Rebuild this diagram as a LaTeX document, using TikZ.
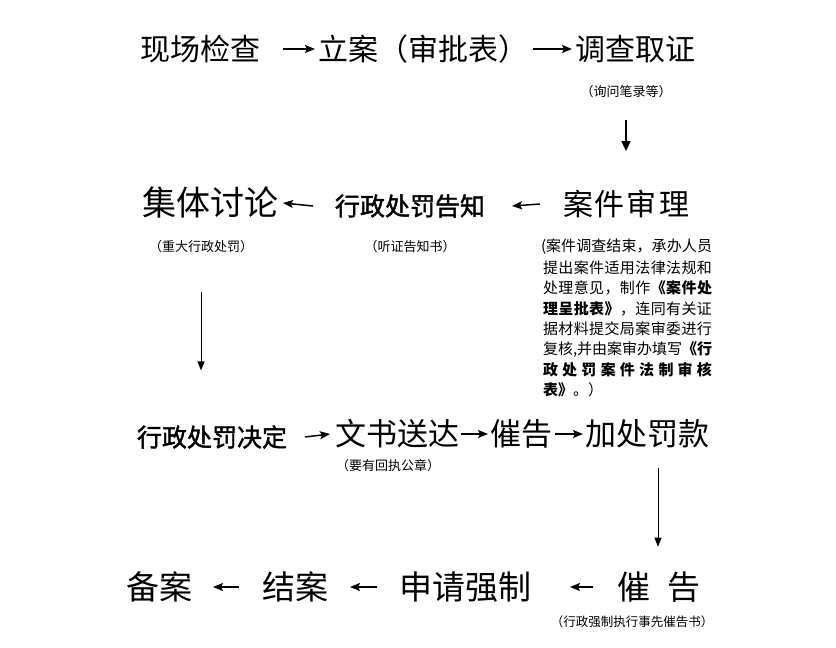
\documentclass[tikz,border=0pt]{standalone}
\usepackage{fontspec}
\setmainfont{Noto Sans CJK SC}
\newfontfamily\semib{Noto Sans CJK SC}[FakeBold=1.6]
\usetikzlibrary{arrows.meta}
\newcommand\gp{\hfil}
\newcommand\fs[1]{\fontsize{#1}{#1}\selectfont}
\begin{document}
\begin{tikzpicture}[x=1pt,y=-1pt,
  every node/.style={inner sep=0pt,outer sep=0pt},
  big/.style={anchor=west,font=\fs{30}},
  bigb/.style={anchor=west,font=\fs{25}\semib},
  small/.style={font=\fs{13}},
  blk/.style={anchor=west,font=\fs{15}},
  tarr/.style={line width=1.5pt,-{Stealth[length=10pt,width=8pt,inset=2pt]}},
  varr/.style={line width=1.8pt,-{Triangle[length=10pt,width=9pt]}},
  vthin/.style={line width=0.9pt,-{Triangle[length=9pt,width=7pt]}}]
\useasboundingbox (0,0) rectangle (836,648);
% row 1
\node[big] (n11) at (140,49) {现场检查};
\node[big] (n12) at (318,49) {立案（审批表）};
\node[big] (n13) at (575,49) {调查取证};
\node[small] (l13) at (626,92) {（询问笔录等）};
\draw[tarr] ([xshift=23pt]n11.east) -- ([xshift=-3pt]n12.west);
\draw[tarr] ([xshift=5pt]n12.east) -- ([xshift=-3pt]n13.west);
% row 2
\node[big,font=\fs{34}] (n21) at (142,203) {集体讨论};
\node[bigb] (n22) at (335,206) {行政处罚告知};
\node[big] (n23) at (563,204) {案\kern2pt{}件\kern2pt{}审\kern2pt{}理};
\node[small] (l21) at (201,247) {（重大行政处罚）};
\node[small] (l22) at (410,247) {（听证告知书）};
\draw[tarr] ([xshift=-22pt]n22.west) -- ([xshift=5pt]n21.east);
\draw[tarr] ([xshift=-23pt]n23.west) -- ([xshift=27pt]n22.east);
\draw[varr] ([yshift=-22pt]l13.south) -- ([yshift=39pt]l13.south |- n23.north);
% block text
\node[blk] (b1) at (541,247) {\makebox[171pt][s]{(\gp{}案\gp{}件\gp{}调\gp{}查\gp{}结\gp{}束\gp{}，\gp{}承\gp{}办\gp{}人\gp{}员}};
\node[blk] (b2) at (543,268) {\makebox[169pt][s]{提\gp{}出\gp{}案\gp{}件\gp{}适\gp{}用\gp{}法\gp{}律\gp{}法\gp{}规\gp{}和}};
\node[blk] (b3) at (543,288) {\makebox[169pt][s]{处\gp{}理\gp{}意\gp{}见\gp{}，\gp{}制\gp{}作\gp{}{\bfseries 《\gp{}案\gp{}件\gp{}处}}};
\node[blk] (b4) at (543,309) {\makebox[169pt][s]{{\bfseries 理\gp{}呈\gp{}批\gp{}表\gp{}》}\gp{}，\gp{}连\gp{}同\gp{}有\gp{}关\gp{}证}};
\node[blk] (b5) at (543,329) {\makebox[169pt][s]{据\gp{}材\gp{}料\gp{}提\gp{}交\gp{}局\gp{}案\gp{}审\gp{}委\gp{}进\gp{}行}};
\node[blk] (b6) at (543,350) {\makebox[169pt][s]{复\gp{}核\gp{},\gp{}并\gp{}由\gp{}案\gp{}审\gp{}办\gp{}填\gp{}写\gp{}{\bfseries 《\gp{}行}}};
\node[blk] (b7) at (543,370) {\makebox[169pt][s]{\bfseries 政\gp{}处\gp{}罚\gp{}案\gp{}件\gp{}法\gp{}制\gp{}审\gp{}核}};
\node[blk] (b8) at (543,390) {{\bfseries 表》}。）};
% row 3
\node[bigb] (n31) at (137,437) {行政处罚决定};
\node[big,font=\fs{31}] (n32) at (335,434) {文书送达};
\node[big,font=\fs{31}] (n33) at (490,434) {催告};
\node[big,font=\fs{31}] (n34) at (585,434) {加处罚款};
\node[small] (l32) at (388,466) {（要有回执公章）};
\draw[vthin] ([yshift=-39pt]l21.south) -- ([yshift=55pt]l21.south |- n31.north);
\draw[tarr] ([xshift=18pt]n31.east) -- ([xshift=-5pt]n32.west);
\draw[tarr] ([xshift=2pt]n32.east) -- ([xshift=-2pt]n33.west);
\draw[tarr] ([xshift=3pt]n33.east) -- ([xshift=-2pt]n34.west);
% row 4
\node[big,font=\fs{33}] (n41) at (126,587) {备案};
\node[big,font=\fs{33}] (n42) at (262,587) {结案};
\node[big,font=\fs{33}] (n43) at (399,587) {申请强制};
\node[big,font=\fs{33}] (n44) at (617,587) {催\kern17pt{}告};
\node[small,font=\fs{12.5}] (l44) at (632,622) {（行政强制执行事先催告书）};
\draw[vthin] ([xshift=73pt,yshift=-20pt]n34.south west) -- ([xshift=41pt,yshift=25pt]n44.north west);
\draw[tarr] ([xshift=-23pt]n42.west) -- ([xshift=21pt]n41.east);
\draw[tarr] ([xshift=-22pt]n43.west) -- ([xshift=22pt]n42.east);
\draw[tarr] ([xshift=-24pt]n44.west) -- ([xshift=39pt]n43.east);
\end{tikzpicture}
\end{document}
